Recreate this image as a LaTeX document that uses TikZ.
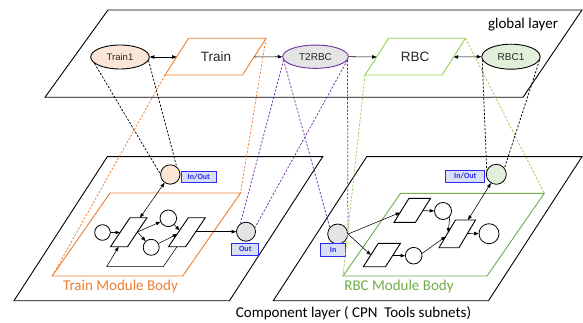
\documentclass[tikz,border=0pt]{standalone}
\usepackage{fontspec}
\setmainfont{Carlito}
\newfontfamily\arialfont{Liberation Sans}
\usetikzlibrary{arrows.meta,shapes.geometric}

\definecolor{orangeline}{HTML}{ED7D31}
\definecolor{greenline}{HTML}{92D050}
\definecolor{greenbody}{HTML}{70AD47}
\definecolor{purpleline}{HTML}{7030A0}
\definecolor{trainfill}{HTML}{FBE5D6}
\definecolor{rbcfill}{HTML}{E2F0D9}
\definecolor{greyfill}{HTML}{E4E4E4}
\definecolor{portblue}{HTML}{2A2AF0}
\definecolor{portfill}{HTML}{D9E0F3}

\tikzset{
  layer/.style={draw=black, line width=0.9pt},
  body/.style={line width=0.9pt},
  arc/.style={draw=black, line width=0.55pt, ->},
  proj/.style={line width=0.75pt, dash pattern=on 2.2pt off 1.6pt},
  place/.style={circle, draw=black, line width=0.8pt, fill=white, inner sep=0pt},
  trans/.style={draw=black, line width=0.9pt, fill=white},
  port/.style={draw=portblue, fill=portfill, line width=1pt, text=portblue,
    font=\bfseries\fontsize{8}{8}\selectfont, inner sep=0pt},
  eplace/.style={ellipse, draw=black, line width=0.9pt, inner sep=0pt,
    text=black!85},
  bodylabel/.style={font=\fontsize{15}{15}\selectfont, inner sep=0pt},
}

\begin{document}
\begin{tikzpicture}[x=1pt, y=-1pt, >={Triangle[length=4.5pt,width=3.4pt]}]
\useasboundingbox (0,0) rectangle (583,323);

% ---------------- layers ----------------
\draw[layer] (108,10) -- (582,10) -- (523,97.3) -- (45,97.3) -- cycle;
\node[bodylabel] (globallabel) at (523,24.5) {global layer};

\draw[layer] (107.3,156.7) -- (322.7,156.7) -- (229.5,300.7) -- (14,300.7) -- cycle;
\draw[layer] (366.7,156.7) -- (582,156.7) -- (488.5,300.7) -- (273.3,300.7) -- cycle;
\node[bodylabel] (complabel) at (353.5,313) {Component layer ( CPN\ \ Tools subnets)};

% module bodies
\coordinate (tmBL) at (52.3,276);
\coordinate (tmTR) at (240.5,193);
\coordinate (rmBL) at (343,276);
\coordinate (rmTR) at (544.3,193.3);
\draw[body, orangeline] (110,193) -- (tmTR) -- (182.7,276) -- (tmBL) -- cycle;
\draw[body, greenbody] (400.5,193.3) -- (rmTR) -- (487,276) -- (rmBL) -- cycle;
\node[bodylabel, text=orangeline] (tmlabel) at (120.5,286.7) {Train Module Body};
\node[bodylabel, text=greenbody] (rmlabel) at (399,286.7) {RBC Module Body};

% ---------------- global layer elements ----------------
\node[eplace, fill=trainfill, minimum width=58.6pt, minimum height=24pt,
  font=\arialfont\fontsize{9.5}{10}\selectfont] (train1) at (120,57) {Train1};

\coordinate (trBL) at (165,75);
\coordinate (trBR) at (242.5,75);
\coordinate (trTR) at (266,38.3);
\coordinate (trTL) at (188.5,38.3);
\draw[body, orangeline, fill=white] (trBL) -- (trBR) -- (trTR) -- (trTL) -- cycle;
\node[font=\arialfont\fontsize{13.5}{14}\selectfont, text=black!85] (train) at (216,57) {Train};
\coordinate (trW) at (176.7,57);
\coordinate (trE) at (254.2,57);

\node[eplace, draw=purpleline, fill=greyfill, minimum width=65.6pt, minimum height=23.3pt,
  font=\arialfont\fontsize{10}{10}\selectfont] (t2rbc) at (315.5,56.7) {T2RBC};

\coordinate (rbcBL) at (365,75);
\coordinate (rbcBR) at (442,75);
\coordinate (rbcTR) at (465.5,38.3);
\coordinate (rbcTL) at (388.5,38.3);
\draw[body, greenline, fill=white] (rbcBL) -- (rbcBR) -- (rbcTR) -- (rbcTL) -- cycle;
\node[font=\arialfont\fontsize{13.5}{14}\selectfont, text=black!85] (rbc) at (415,57) {RBC};
\coordinate (rbcW) at (376.7,57);
\coordinate (rbcE) at (453.7,57);

\node[eplace, fill=rbcfill, minimum width=58.3pt, minimum height=25pt,
  font=\arialfont\fontsize{10}{10}\selectfont] (rbc1) at (511,56.7) {RBC1};

\draw[arc, <->] (train1.east) -- (trW);
\draw[arc] (trE) -- (t2rbc.west);
\draw[arc] (t2rbc.east) -- (rbcW);
\draw[arc, <->] (rbcE) -- (rbc1.west);

% ---------------- Train module ----------------
\node[place, minimum size=15.6pt] (tp1) at (102.5,232.5) {};
\draw[trans] (110.5,246.7) -- (127.5,246.7) -- (147,217.7) -- (130,217.7) -- cycle;
\node[place, minimum size=16.6pt] (tp2) at (168.3,218.3) {};
\node[place, minimum size=16pt] (tp3) at (151.2,247.3) {};
\draw[trans] (168.5,246.7) -- (185.7,246.7) -- (205.3,217.7) -- (188.3,217.7) -- cycle;
\node[place, fill=greyfill, minimum size=19pt] (tout) at (246,231.7) {};
\node[place, fill=trainfill, minimum size=19.4pt] (tio) at (170.3,174.5) {};

\coordinate (t1in) at (120,232.5);
\coordinate (t1out) at (137.4,232);
\coordinate (t1top) at (140,217.7);
\coordinate (t1bot) at (118.6,246.7);
\coordinate (t2in) at (179.6,230.5);
\coordinate (t2inb) at (177.2,234);
\coordinate (t2out) at (195.8,231.7);
\coordinate (t2bot) at (177,246.7);
\coordinate (loopA) at (163.3,266.7);
\coordinate (loopB) at (106.7,266.7);

\draw[arc] (tp1) -- (t1in);
\draw[arc] (t1out) -- (tp2);
\draw[arc] (t1out) -- (tp3);
\draw[arc] (tp2) -- (t2in);
\draw[arc] (tp3) -- (t2inb);
\draw[arc] (t2out) -- (tout);
\draw[arc] (t2bot) -- (loopA) -- (loopB) -- (t1bot);
\draw[arc, <->] (t1top) -- (tio);

\node[port, minimum width=35.5pt, minimum height=11.5pt] (tiolabel) at (198.8,176.8) {In/Out};
\node[port, minimum width=27.3pt, minimum height=11.7pt] (toutlabel) at (245.3,249.2) {Out};

% ---------------- RBC module ----------------
\node[place, fill=greyfill, minimum size=20pt] (rin) at (337.7,234) {};
\draw[trans] (394,222.3) -- (415.5,222.3) -- (430.5,198.3) -- (409,198.3) -- cycle;
\draw[trans] (363.3,266.7) -- (385.5,266.7) -- (400.5,243.3) -- (378.3,243.3) -- cycle;
\draw[trans] (439,247.7) -- (459,247.7) -- (475.5,220) -- (455.5,220) -- cycle;
\node[place, minimum size=17pt] (rpu) at (443,211) {};
\node[place, minimum size=16.6pt] (rpl) at (413.7,255.7) {};
\node[place, minimum size=20pt] (rpr) at (489,233.7) {};
\node[place, fill=rbcfill, minimum size=20pt] (rio) at (496.3,174.3) {};

\coordinate (taIn) at (400.1,212.5);
\coordinate (tbIn) at (370.8,255);
\coordinate (taOut) at (422.8,210.7);
\coordinate (tbOut) at (392.6,255.7);
\coordinate (tcInA) at (448.1,232.5);
\coordinate (tcInB) at (445.7,236.5);
\coordinate (tcOut) at (467.5,233.5);
\coordinate (tcTop) at (468,220);

\draw[arc] (rin.east) -- (taIn);
\draw[arc] (rin.east) -- (tbIn);
\draw[arc] (taOut) -- (rpu);
\draw[arc] (tbOut) -- (rpl);
\draw[arc] (rpu.-40) -- (tcInA);
\draw[arc] (rpl.15) -- (tcInB);
\draw[arc] (tcOut) -- (rpr);
\draw[arc, <->] (tcTop) -- (rio);

\node[port, minimum width=25pt, minimum height=12.7pt] (rinlabel) at (333.2,250.3) {In};
\node[port, minimum width=39.3pt, minimum height=12.3pt] (riolabel) at (465.3,176.2) {In/Out};

% ---------------- projections between layers ----------------
\draw[proj] (train1.194) -- (tio.176);
\draw[proj] (train1.353) -- (tio.51);
\draw[proj, orangeline] (trBL) -- (tmBL);
\draw[proj, orangeline] (trTR) -- (tmTR);
\draw[proj, purpleline] (t2rbc.186) -- (tout.125);
\draw[proj, purpleline] (t2rbc.186) -- (rin.140);
\draw[proj, purpleline] (t2rbc.354) -- (tout.25);
\draw[proj, purpleline] (t2rbc.354) -- (rin.10);
\draw[proj, greenline] (rbcBL) -- (rmBL);
\draw[proj, greenline] (rbcTR) -- (rmTR);
\draw[proj] (rbc1.186) -- (rio.157);
\draw[proj] (rbc1.353) -- (rio.38);
\end{tikzpicture}
\end{document}
